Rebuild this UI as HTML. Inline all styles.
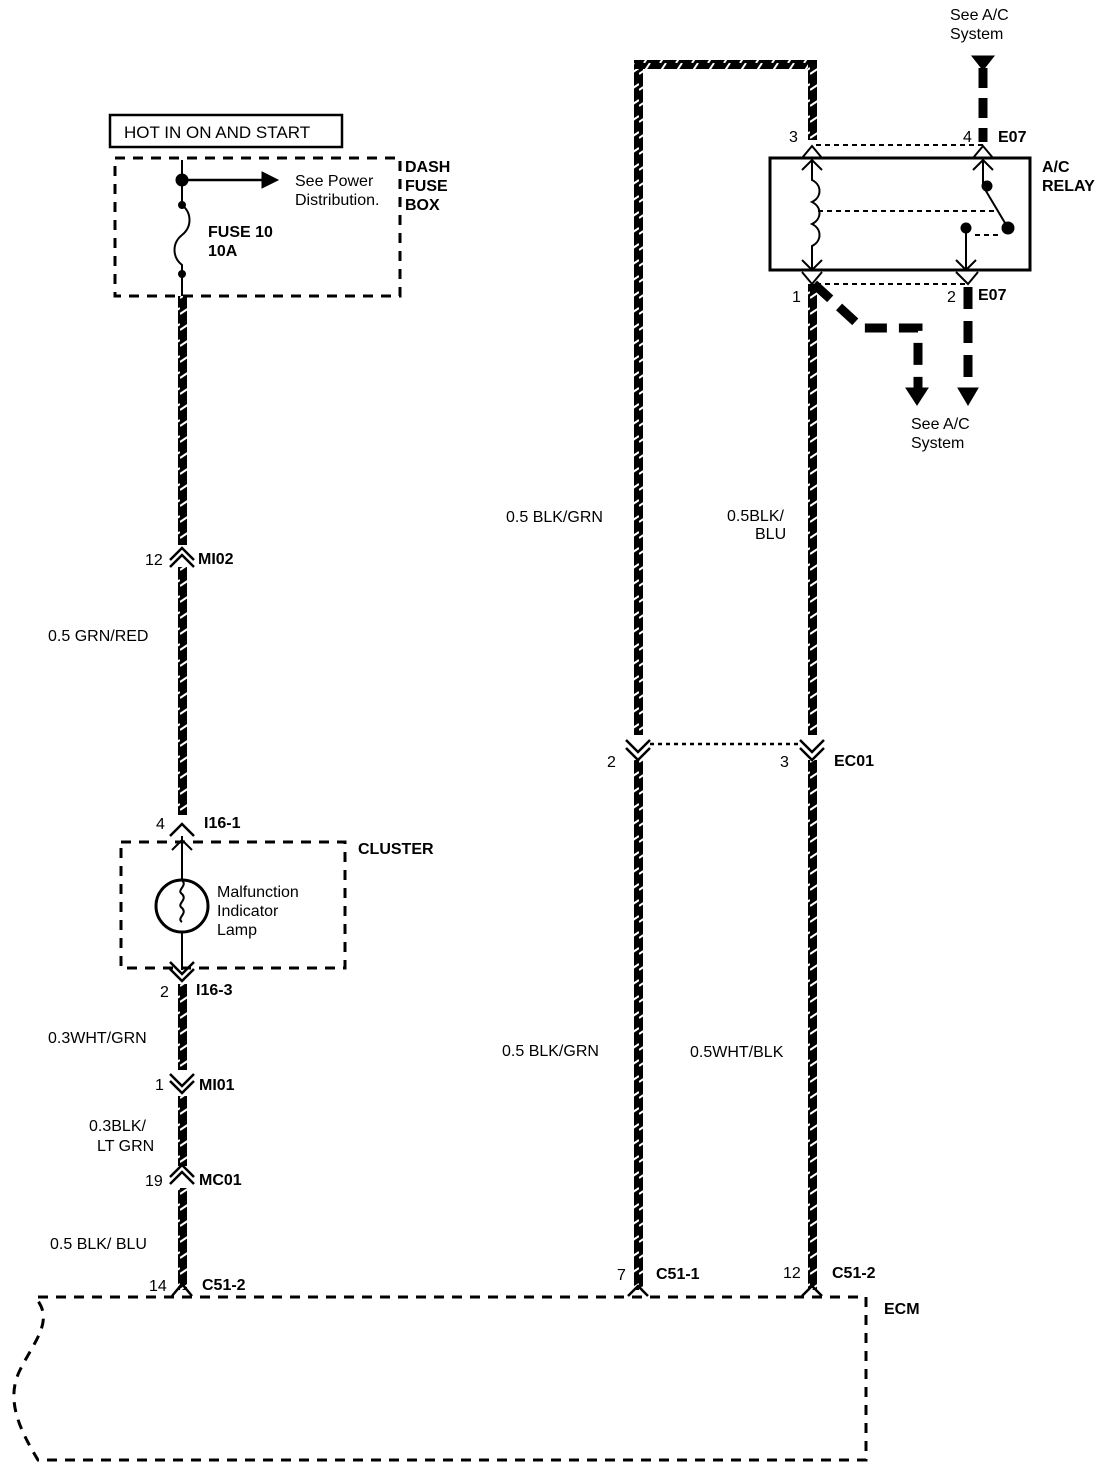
<!DOCTYPE html>
<html><head><meta charset="utf-8"><style>
html,body{margin:0;padding:0;background:#fff;}
svg text{font-family:"Liberation Sans",Arial,sans-serif;fill:#000;}
.b{font-weight:bold;font-size:16px;}
.n{font-size:16px;}
</style></head><body>
<svg width="1120" height="1474" viewBox="0 0 1120 1474" xmlns="http://www.w3.org/2000/svg">
<defs>
<pattern id="h" width="9" height="16" patternUnits="userSpaceOnUse">
<rect width="9" height="16" fill="#000"/>
<path d="M0,10 L9,4" stroke="#fff" stroke-width="2"/>
</pattern>
<pattern id="hh" width="16" height="9" patternUnits="userSpaceOnUse">
<rect width="16" height="9" fill="#000"/>
<path d="M4,9 L10,0" stroke="#fff" stroke-width="2"/>
</pattern>
</defs>
<g fill="none" stroke="#000">
<!-- left wire -->
<rect x="178" y="296" width="9" height="524" fill="url(#h)" stroke="none"/>
<rect x="178" y="975" width="9" height="315" fill="url(#h)" stroke="none"/>
<!-- middle wire -->
<rect x="634" y="60" width="9" height="1230" fill="url(#h)" stroke="none"/>
<rect x="634" y="60" width="182" height="9" fill="url(#hh)" stroke="none"/>
<rect x="808" y="60" width="9" height="80" fill="url(#h)" stroke="none"/>
<rect x="808" y="284" width="9" height="1006" fill="url(#h)" stroke="none"/>
<!-- white gaps at connectors -->
<g fill="#fff" stroke="none">
<rect x="170" y="545" width="25" height="22"/>
<rect x="170" y="815" width="25" height="30"/>
<rect x="170" y="958" width="25" height="26"/>
<rect x="170" y="1070" width="25" height="26"/>
<rect x="170" y="1166" width="25" height="22"/>
<rect x="625" y="735" width="25" height="25"/>
<rect x="800" y="735" width="25" height="25"/>
</g>
<g stroke-width="2.5">
<path d="M170,560 L182,548 L194,560 M170,567 L182,555 L194,567"/>
<path d="M170,836 L182,824 L194,836"/>
<path d="M170,962 L182,974 L194,962 M170,969 L182,981 L194,969"/>
<path d="M170,1074 L182,1086 L194,1074 M170,1081 L182,1093 L194,1081"/>
<path d="M170,1177 L182,1165 L194,1177 M170,1184 L182,1172 L194,1184"/>
<path d="M626,740 L638,752 L650,740 M626,748 L638,760 L650,748"/>
<path d="M800,740 L812,752 L824,740 M800,748 L812,760 L824,748"/>
<path d="M172,1296 L182,1284 L192,1296"/>
<path d="M628,1296 L638,1286 L648,1296"/>
<path d="M802,1296 L812,1286 L822,1296"/>
</g>
<path d="M650,744 L800,744" stroke-width="2.5" stroke-dasharray="4,4"/>
<!-- HOT box -->
<rect x="110" y="115" width="232" height="32" stroke-width="2.5"/>
<!-- fuse box -->
<rect x="115" y="158" width="285" height="138" stroke-width="3" stroke-dasharray="10,8"/>
<path d="M182,160 L182,205 M182,205 c10,8 10,22 0,30 c-10,8 -10,22 0,30 L182,296" stroke-width="2"/>
<circle cx="182" cy="180" r="6" fill="#000"/>
<circle cx="182" cy="205" r="3.5" fill="#000"/>
<circle cx="182" cy="274" r="3.5" fill="#000"/>
<path d="M182,180 L265,180" stroke-width="2.5"/>
<path d="M262,172 L278,180 L262,188Z" fill="#000"/>
<!-- cluster -->
<rect x="121" y="842" width="224" height="126" stroke-width="3" stroke-dasharray="10,8"/>
<path d="M182,836 L182,880 M182,932 L182,970" stroke-width="2"/>
<path d="M172,850 L182,840 L192,850" stroke-width="2"/>
<circle cx="182" cy="906" r="26" stroke-width="3" fill="#fff"/>
<path d="M182,880 c6,6 -6,10 0,14 c6,6 -6,10 0,14 c6,6 -6,10 0,14" stroke-width="2"/>
<!-- relay -->
<rect x="770" y="158" width="260" height="112" stroke-width="3"/>
<path d="M816,145 L983,145" stroke-width="2" stroke-dasharray="5,4"/>
<path d="M816,284 L968,284" stroke-width="2" stroke-dasharray="5,4"/>
<path d="M802,158 L812,146 L822,158 M973,158 L983,146 L993,158" stroke-width="2"/>
<path d="M802,170 L812,160 L822,170 M812,160 L812,180 c10,5 10,17 0,22 c10,5 10,17 0,22 c10,5 10,17 0,22 L812,270" stroke-width="2"/>
<path d="M802,260 L812,270 L822,260 M802,272 L812,284 L822,272" stroke-width="2"/>
<path d="M973,170 L983,160 L993,170 M983,160 L983,186 L1008,228" stroke-width="2"/>
<circle cx="987" cy="186" r="5" fill="#000"/>
<circle cx="1008" cy="228" r="6" fill="#000"/>
<circle cx="966" cy="228" r="5" fill="#000"/>
<path d="M966,228 L966,270 M956,260 L966,270 L976,260 M956,272 L968,284 L978,272" stroke-width="2"/>
<path d="M818,211 L995,211 M975,235 L1002,235" stroke-width="2" stroke-dasharray="5,4"/>
<!-- A/C dashed heavy wires -->
<path d="M983,68 L983,142" stroke-width="9" stroke-dasharray="20,10"/>
<path d="M972,56 L994,56 L983,70Z" fill="#000"/>
<path d="M968,287 L968,390" stroke-width="9" stroke-dasharray="22,12"/>
<path d="M958,388 L978,388 L968,405Z" fill="#000"/>
<path d="M814,284 L862,328 L918,328 L918,390" stroke-width="9" stroke-dasharray="22,12"/>
<path d="M906,388 L928,388 L917,405Z" fill="#000"/>
<!-- ECM -->
<path d="M38,1297 L866,1297 L866,1460 L38,1460 C20,1430 5,1400 20,1370 C35,1340 55,1320 35,1297" stroke-width="3" stroke-dasharray="10,8"/>
</g>
<text x="124" y="138" class="n" style="font-size:17px">HOT IN ON AND START</text>
<text x="405" y="172" class="b">DASH</text>
<text x="405" y="191" class="b">FUSE</text>
<text x="405" y="210" class="b">BOX</text>
<text x="295" y="186" class="n">See Power</text>
<text x="295" y="205" class="n">Distribution.</text>
<text x="208" y="237" class="b">FUSE 10</text>
<text x="208" y="256" class="b">10A</text>
<text x="145" y="565" class="n">12</text><text x="198" y="564" class="b">MI02</text>
<text x="48" y="641" class="n">0.5 GRN/RED</text>
<text x="156" y="829" class="n">4</text><text x="204" y="828" class="b">I16-1</text>
<text x="358" y="854" class="b">CLUSTER</text>
<text x="217" y="897" class="n">Malfunction</text>
<text x="217" y="916" class="n">Indicator</text>
<text x="217" y="935" class="n">Lamp</text>
<text x="160" y="997" class="n">2</text><text x="196" y="995" class="b">I16-3</text>
<text x="48" y="1043" class="n">0.3WHT/GRN</text>
<text x="155" y="1090" class="n">1</text><text x="199" y="1090" class="b">MI01</text>
<text x="89" y="1131" class="n">0.3BLK/</text>
<text x="97" y="1151" class="n">LT GRN</text>
<text x="145" y="1186" class="n">19</text><text x="199" y="1185" class="b">MC01</text>
<text x="50" y="1249" class="n">0.5 BLK/ BLU</text>
<text x="149" y="1291" class="n">14</text><text x="202" y="1290" class="b">C51-2</text>
<text x="506" y="522" class="n">0.5 BLK/GRN</text>
<text x="727" y="521" class="n">0.5BLK/</text>
<text x="755" y="539" class="n">BLU</text>
<text x="607" y="767" class="n">2</text>
<text x="780" y="767" class="n">3</text><text x="834" y="766" class="b">EC01</text>
<text x="502" y="1056" class="n">0.5 BLK/GRN</text>
<text x="690" y="1057" class="n">0.5WHT/BLK</text>
<text x="617" y="1280" class="n">7</text><text x="656" y="1279" class="b">C51-1</text>
<text x="783" y="1278" class="n">12</text><text x="832" y="1278" class="b">C51-2</text>
<text x="884" y="1314" class="b">ECM</text>
<text x="950" y="20" class="n">See A/C</text>
<text x="950" y="39" class="n">System</text>
<text x="789" y="142" class="n">3</text>
<text x="963" y="142" class="n">4</text><text x="998" y="142" class="b">E07</text>
<text x="1042" y="172" class="b">A/C</text>
<text x="1042" y="191" class="b">RELAY</text>
<text x="792" y="302" class="n">1</text>
<text x="947" y="302" class="n">2</text><text x="978" y="300" class="b">E07</text>
<text x="911" y="429" class="n">See A/C</text>
<text x="911" y="448" class="n">System</text>
</svg>
</body></html>
